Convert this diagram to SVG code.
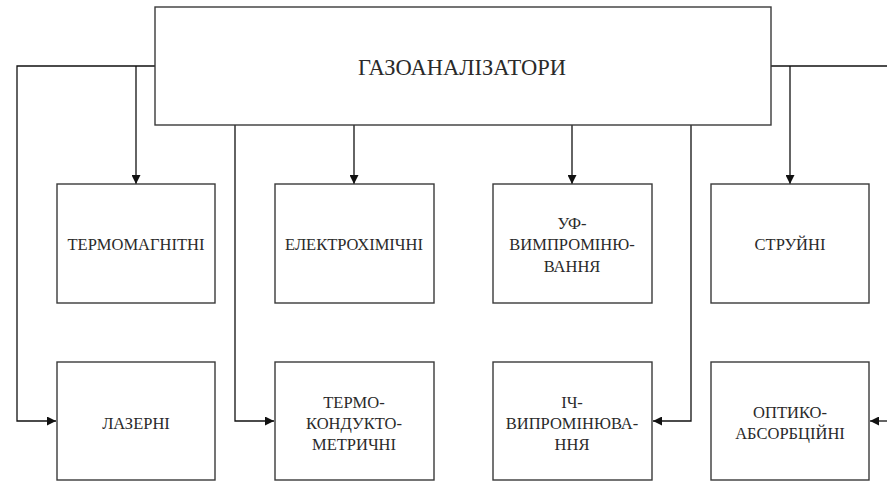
<svg xmlns="http://www.w3.org/2000/svg" width="887" height="482" viewBox="0 0 887 482">
<style>
.box{fill:#fff;stroke:#3a3a3a;stroke-width:1.4}
.c{fill:none;stroke:#111;stroke-width:1.3}
text{font-family:"Liberation Serif","Times New Roman","DejaVu Serif",serif;fill:#2a2a2a;text-anchor:middle;dominant-baseline:central}
.s{font-size:16.5px}
.t{font-size:22.5px}
</style>
<defs>
<marker id="ah" viewBox="0 0 10 10" refX="10" refY="5" markerWidth="10" markerHeight="9" markerUnits="userSpaceOnUse" orient="auto">
<path d="M0,0 L10,5 L0,10 Z" fill="#111"/>
</marker>
</defs>
<rect width="887" height="482" fill="#fff"/>
<g id="connectors">
<path class="c" d="M155,66 H17 V421 H56" marker-end="url(#ah)"/>
<path class="c" d="M136,66 V184" marker-end="url(#ah)"/>
<path class="c" d="M195,115 V125"/>
<path class="c" d="M235,125 V421 H274" marker-end="url(#ah)"/>
<path class="c" d="M354,125 V184" marker-end="url(#ah)"/>
<path class="c" d="M572,125 V184" marker-end="url(#ah)"/>
<path class="c" d="M691,125 V421 H653" marker-end="url(#ah)"/>
<path class="c" d="M771,66 H887"/>
<path class="c" d="M790,66 V184" marker-end="url(#ah)"/>
<path class="c" d="M887,421 H870" marker-end="url(#ah)"/>
</g>
<g id="gazoanalizatory">
<rect class="box" x="155" y="7" width="616" height="118"/>
<text class="t" x="462" y="67">ГАЗОАНАЛІЗАТОРИ</text>
</g>
<g id="termomagnitni">
<rect class="box" x="57" y="184" width="158" height="119"/>
<text class="s" x="136" y="244">ТЕРМОМАГНІТНІ</text>
</g>
<g id="elektrokhimichni">
<rect class="box" x="275" y="184" width="159" height="119"/>
<text class="s" x="354" y="244">ЕЛЕКТРОХІМІЧНІ</text>
</g>
<g id="uf">
<rect class="box" x="493" y="184" width="159" height="119"/>
<text class="s" x="572" y="223">УФ-</text>
<text class="s" x="572" y="244">ВИМПРОМІНЮ-</text>
<text class="s" x="572" y="266">ВАННЯ</text>
</g>
<g id="struini">
<rect class="box" x="711" y="184" width="158" height="119"/>
<text class="s" x="790" y="244">СТРУЙНІ</text>
</g>
<g id="lazerni">
<rect class="box" x="57" y="362" width="158" height="118"/>
<text class="s" x="136" y="423">ЛАЗЕРНІ</text>
</g>
<g id="termokonduktometrychni">
<rect class="box" x="275" y="362" width="159" height="118"/>
<text class="s" x="354" y="402">ТЕРМО-</text>
<text class="s" x="354" y="423">КОНДУКТО-</text>
<text class="s" x="354" y="444">МЕТРИЧНІ</text>
</g>
<g id="ich">
<rect class="box" x="493" y="362" width="159" height="118"/>
<text class="s" x="572" y="402">ІЧ-</text>
<text class="s" x="572" y="423">ВИПРОМІНЮВА-</text>
<text class="s" x="572" y="444">ННЯ</text>
</g>
<g id="optyko">
<rect class="box" x="711" y="362" width="158" height="118"/>
<text class="s" x="790" y="412">ОПТИКО-</text>
<text class="s" x="790" y="433">АБСОРБЦІЙНІ</text>
</g>
</svg>
